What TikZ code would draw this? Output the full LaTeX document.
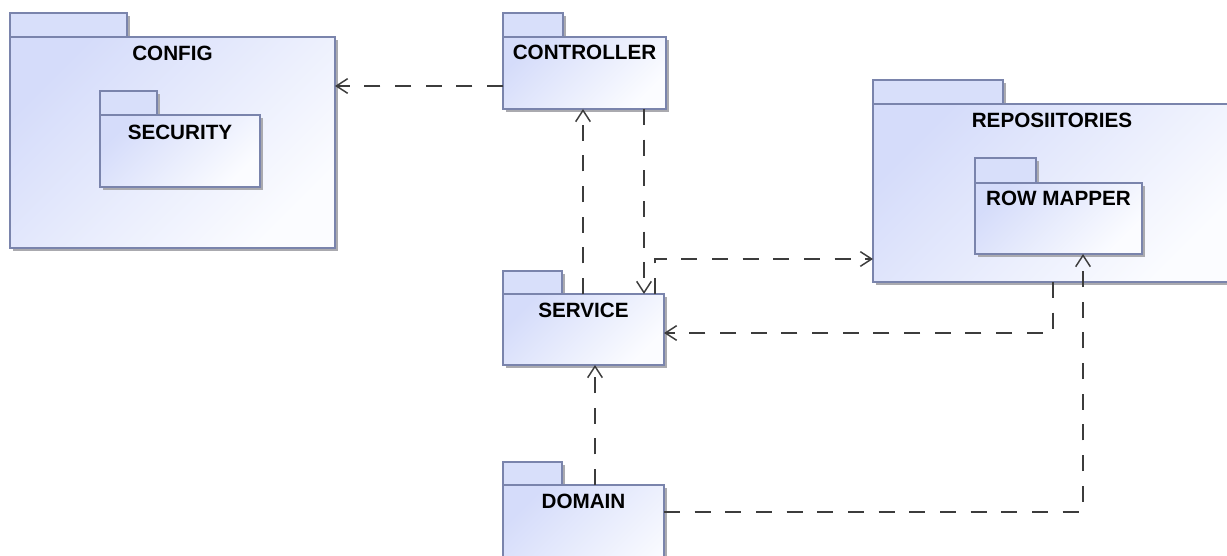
\documentclass[tikz,border=0pt]{standalone}
\usepackage{fontspec}
\setmainfont{Liberation Sans}
\usetikzlibrary{arrows.meta}
\definecolor{pkgtop}{RGB}{213,220,250}
\definecolor{pkgbot}{RGB}{251,252,255}
\definecolor{pkgtab}{RGB}{216,223,250}
\definecolor{pkgline}{RGB}{122,132,172}
\definecolor{pkgshadow}{RGB}{170,170,175}
\definecolor{depline}{RGB}{60,60,60}
\tikzset{
  pkgbody/.style={draw=pkgline, line width=0.9pt, top color=pkgtop, bottom color=pkgbot, shading angle=45,
    rectangle, inner sep=0pt, outer sep=0pt, anchor=north west},
  pkgtabst/.style={draw=pkgline, line width=0.9pt, fill=pkgtab},
  pkgshade/.style={fill=pkgshadow},
  pkglabel/.style={font=\bfseries\fontsize{15.5}{18}\selectfont, text=black, inner sep=0pt},
  dep/.style={draw=depline, line width=1.1pt, dash pattern=on 12pt off 11pt,
    -{Straight Barb[length=8.5pt,width=11pt,line width=1.1pt]}},
}
\newcommand\pkgbox[9]{%
  \fill[pkgshade] (#2+3,#3+3) rectangle (#4+3,#5+3);
  \fill[pkgshade] (#2+3,#5+3) rectangle (#6+3,#7+3);
  \node[pkgbody, minimum width={(#6-#2)*0.75pt}, minimum height={(#7-#5)*0.75pt}] (#1) at (#2,#5) {};
  \draw[pkgtabst] (#2,#3) rectangle (#4,#5);
  \node[pkglabel] (#1-label) at ({(#2+#6)/2},#9) {#8};
}
\begin{document}
\begin{tikzpicture}[x=0.75pt, y=-0.75pt]
\useasboundingbox (0,0) rectangle (1227,556);
\clip (0,0) rectangle (1227,556);
\fill[white] (0,0) rectangle (1227,556);

\pkgbox{config}{10}{13}{127}{37}{335}{248}{CONFIG}{53}
\pkgbox{security}{100}{91}{157}{115}{260}{187}{SECURITY}{132}
\pkgbox{ctrl}{503}{13}{563}{37}{666}{109}{CONTROLLER}{52}
\pkgbox{svc}{503}{271}{562}{294}{664}{365}{SERVICE}{310}
\pkgbox{dom}{503}{462}{562}{485}{664}{600}{DOMAIN}{501}
\pkgbox{repos}{873}{80}{1003}{104}{1231}{282}{REPOSIITORIES}{120}
\pkgbox{rowmap}{975}{158}{1036}{183}{1142}{254}{ROW MAPPER}{198}

% lanes
\coordinate (h86) at (0,86);
\coordinate (h259) at (0,259);
\coordinate (h333) at (0,333);
\coordinate (h512) at (0,512);
\coordinate (v583) at (583,0);
\coordinate (v644) at (644,0);
\coordinate (v655) at (655,0);
\coordinate (v595) at (595,0);
\coordinate (v1053) at (1053,0);
\coordinate (v1083) at (1083,0);

\draw[dep] (ctrl.west |- h86) -- (config.east |- h86);
\draw[dep] (svc.north -| v583) -- (ctrl.south -| v583);
\draw[dep] (ctrl.south -| v644) -- (svc.north -| v644);
\draw[dep] (svc.north -| v655) |- (repos.west |- h259);
\draw[dep] (repos.south -| v1053) |- (svc.east |- h333);
\draw[dep] (dom.east |- h512) -| (rowmap.south -| v1083);
\draw[dep] (dom.north -| v595) -- (svc.south -| v595);
\end{tikzpicture}
\end{document}
